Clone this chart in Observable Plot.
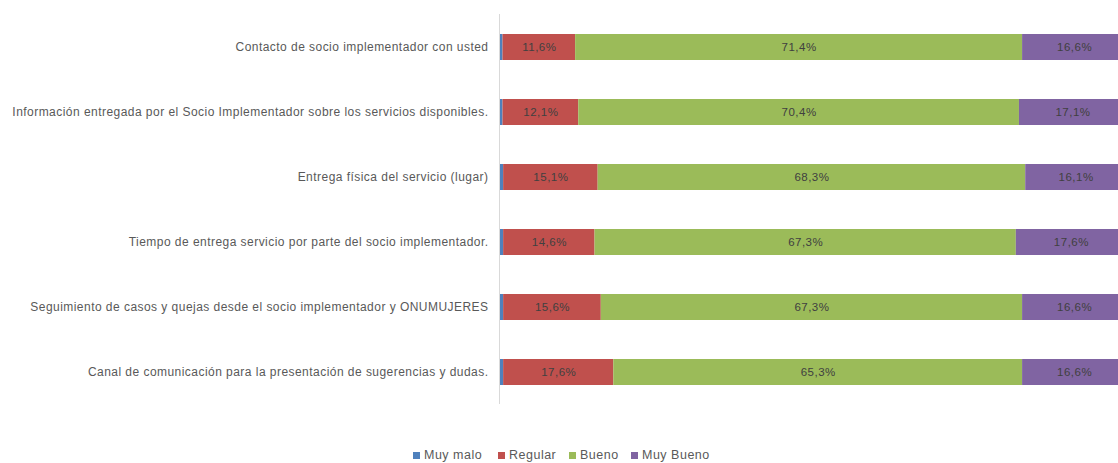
<!DOCTYPE html>
<html>
<head>
<meta charset="utf-8">
<script src="https://cdn.jsdelivr.net/npm/d3@7"></script>
<script src="https://cdn.jsdelivr.net/npm/@observablehq/plot@0.6"></script>
<style>
  body { margin: 0; background: #fff; overflow: hidden; }
  #wrap { position: relative; width: 1118px; height: 463px; overflow: hidden; }
  #legend { position: absolute; left: 0; top: 448px; width: 1118px; height: 15px;
            font-family: "Liberation Sans", Arial, sans-serif; font-size: 12.5px; letter-spacing: 0.5px; color: #595959; line-height: 14px; }
  .item { position: absolute; top: 0px; white-space: nowrap; }
  .sw { display: inline-block; width: 7px; height: 7px; margin-right: 4px; vertical-align: 0px; }
  #chart svg g[aria-label="y-axis tick label"] text { letter-spacing: 0.46px; }
  #chart svg g[aria-label="text"] text { letter-spacing: 0.5px; }
</style>
</head>
<body>
<div id="wrap"><div id="chart"></div><div id="legend"></div></div>
<script>
const categories = [
  "Contacto de socio implementador con usted",
  "Información entregada por el Socio Implementador sobre los servicios disponibles.",
  "Entrega física del servicio (lugar)",
  "Tiempo de entrega servicio por parte del socio implementador.",
  "Seguimiento de casos y quejas desde el socio implementador y ONUMUJERES",
  "Canal de comunicación para la presentación de sugerencias y dudas."
];
const series = ["Muy malo", "Regular", "Bueno", "Muy Bueno"];
const colors = ["#4f81bd", "#c0504d", "#9bbb59", "#8064a2"];
const muyMalo  = [0.4, 0.4, 0.5, 0.5, 0.5, 0.5];
const regular  = [11.6, 12.1, 15.1, 14.6, 15.6, 17.6];
const bueno    = [71.4, 70.4, 68.3, 67.3, 67.3, 65.3];
const muyBueno = [16.6, 17.1, 16.1, 17.6, 16.6, 16.6];
const legendX = [413, 498, 569, 631];

const cols = [muyMalo, regular, bueno, muyBueno];
const data = [];
categories.forEach((c, i) => series.forEach((s, j) => data.push({cat: c, serie: s, value: cols[j][i]})));

const fmt = v => v.toFixed(1).replace(".", ",") + "%";
const font = '"Liberation Sans", Arial, sans-serif';

const chart = Plot.plot({
  width: 1118,
  height: 446,
  marginLeft: 500,
  marginRight: 0,
  marginTop: 14,
  marginBottom: 42,
  style: {fontFamily: font, fontSize: "12px", color: "#595959", background: "#fff"},
  x: {domain: [0, 100], range: [500, 1126], axis: null},
  y: {domain: categories, paddingInner: 0.6, paddingOuter: 0.3, label: null, tickSize: 0, tickPadding: 12},
  color: {domain: series, range: colors},
  marks: [
    Plot.barX(data, Plot.stackX({x: "value", y: "cat", fill: "serie", order: series})),
    Plot.text(data, Plot.stackX({x: "value", y: "cat", z: "serie", order: series,
      text: d => d.value < 2 ? "" : fmt(d.value), fill: "#404040", fontSize: 11.5})),
    Plot.ruleX([0], {stroke: "#d9d9d9", dx: -1})
  ]
});
document.getElementById("chart").appendChild(chart);

const lg = document.getElementById("legend");
series.forEach((s, i) => {
  const it = document.createElement("span");
  it.className = "item";
  it.style.left = legendX[i] + "px";
  it.innerHTML = `<span class="sw" style="background:${colors[i]}"></span>${s}`;
  lg.appendChild(it);
});
</script>
</body>
</html>
